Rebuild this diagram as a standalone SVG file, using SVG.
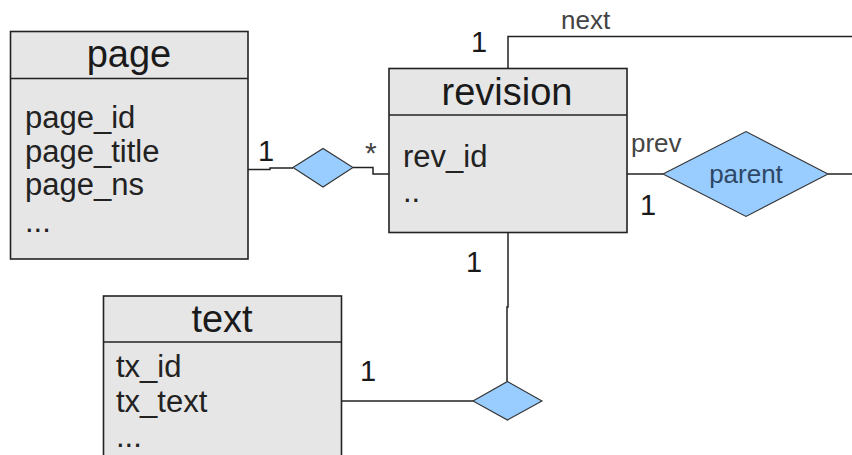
<svg xmlns="http://www.w3.org/2000/svg" width="852" height="455" viewBox="0 0 852 455">
<style>
.box{fill:#e6e6e6;stroke:#222;stroke-width:1.6}
.sep{stroke:#222;stroke-width:1.6}
.dia{fill:#99ccff;stroke:#333;stroke-width:1.1}
.ln{fill:none;stroke:#222;stroke-width:1.5}
text{font-family:"Liberation Sans",Arial,sans-serif}
.title{font-size:38px;fill:#1a1a1a;text-anchor:middle}
.attr{font-size:31px;fill:#222}
.card{font-size:29px;fill:#1a1a1a}
.role{font-size:26px;fill:#444}
.star{font-size:30px;fill:#444}
.rel{font-size:26px;fill:#2d4766;text-anchor:middle}
</style>
<rect width="852" height="455" fill="#fff"/>
<g id="connectors">
<polyline class="ln" points="248,169.5 270,169.5 270,168 293,168"/>
<polyline class="ln" points="353,167.5 373,167.5 373,174 389,174"/>
<polyline class="ln" points="508,68 508,36.5 852,36.5"/>
<line class="ln" x1="627" y1="174" x2="663" y2="174"/>
<line class="ln" x1="828" y1="174" x2="852" y2="174"/>
<polyline class="ln" points="508,232 508,307 507,307 507,381.5"/>
<line class="ln" x1="342" y1="401" x2="473" y2="401"/>
<text class="card" x="258" y="161">1</text>
<text class="star" x="365" y="163">*</text>
<text class="card" x="471" y="52">1</text>
<text class="role" x="561" y="29">next</text>
<text class="role" x="631" y="152">prev</text>
<text class="card" x="640" y="215">1</text>
<text class="card" x="466" y="272">1</text>
<text class="card" x="360" y="381">1</text>
</g>
<g id="page">
<rect class="box" x="10.5" y="31.5" width="237.5" height="227.5"/>
<line class="sep" x1="10.5" y1="78.5" x2="248" y2="78.5"/>
<text class="title" x="129" y="67">page</text>
<text class="attr" x="25" y="128">page_id</text>
<text class="attr" x="25" y="162">page_title</text>
<text class="attr" x="25" y="195">page_ns</text>
<text class="attr" x="25" y="232">...</text>
</g>
<g id="revision">
<rect class="box" x="389" y="68.5" width="238" height="164"/>
<line class="sep" x1="389" y1="115" x2="627" y2="115"/>
<text class="title" x="507" y="105">revision</text>
<text class="attr" x="403" y="167">rev_id</text>
<text class="attr" x="403" y="202">..</text>
</g>
<g id="text">
<rect class="box" x="103.5" y="296" width="238" height="175"/>
<line class="sep" x1="103.5" y1="342" x2="341.5" y2="342"/>
<text class="title" x="222" y="332">text</text>
<text class="attr" x="116" y="377">tx_id</text>
<text class="attr" x="116" y="412">tx_text</text>
<text class="attr" x="116" y="447">...</text>
</g>
<g id="rel-page-revision">
<polygon class="dia" points="293,167.5 323,148.5 353,167.5 323,187"/>
</g>
<g id="rel-parent">
<polygon class="dia" points="663,174 746,131.5 828,174 746,216.5"/>
<text class="rel" x="746" y="183">parent</text>
</g>
<g id="rel-revision-text">
<polygon class="dia" points="473,401 507.5,381.5 542,401 507.5,420"/>
</g>
</svg>
